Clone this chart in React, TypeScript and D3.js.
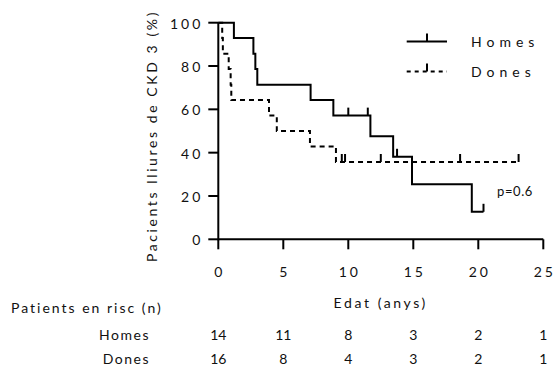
import React from 'react';
import * as d3 from 'd3';

// Kaplan-Meier steps (time in years, survival in %)
const homesTimes = [0, 1.2, 2.7, 2.85, 3.0, 7.1, 8.85, 11.7, 13.45, 14.9, 19.5, 20.4];
const homesSurv = [100, 92.9, 85.7, 78.6, 71.4, 64.3, 57.1, 47.6, 38.1, 25.4, 12.7, 12.7];
const homesCensored = [10.0, 11.5, 13.75, 20.4];

const donesTimes = [0, 0.3, 0.35, 0.8, 0.95, 1.0, 3.9, 4.5, 7.05, 9.05, 23.1];
const donesSurv = [100, 92.9, 85.7, 78.6, 71.4, 64.3, 57.1, 50, 42.9, 35.7, 35.7];
const donesCensored = [9.5, 9.75, 12.5, 18.6, 23.1];

const xTicks = [0, 5, 10, 15, 20, 25];
const yTicks = [0, 20, 40, 60, 80, 100];
const homesRisk = [14, 11, 8, 3, 2, 1];
const donesRisk = [16, 8, 4, 3, 2, 1];

const W = 554;
const H = 368;
const FONT = "Lato, 'Open Sans', sans-serif";

function survAt(times: number[], surv: number[], t: number) {
  const i = d3.bisectRight(times, t) - 1;
  return surv[Math.max(0, i)];
}

export default function App() {
  const x = d3.scaleLinear().domain([0, 25]).range([218.3, 543.3]);
  const y = d3.scaleLinear().domain([0, 100]).range([239.3, 22.7]);

  const line = d3
    .line<[number, number]>()
    .x((d) => x(d[0]))
    .y((d) => y(d[1]))
    .curve(d3.curveStepAfter);

  const homesPts = homesTimes.map((t, i) => [t, homesSurv[i]] as [number, number]);
  const donesPts = donesTimes.map((t, i) => [t, donesSurv[i]] as [number, number]);

  const dash = '5,4';
  const tick = 8;

  return (
    <svg
      width={W}
      height={H}
      style={{ position: 'absolute', left: 0, top: 0, background: '#fff' }}
      fontFamily={FONT}
      fill="#111"
    >
      {/* axes */}
      <line x1={x(0)} x2={x(25)} y1={y(0)} y2={y(0)} stroke="#000" strokeWidth={2} />
      <line x1={x(0)} x2={x(0)} y1={y(0) + 1} y2={y(100)} stroke="#000" strokeWidth={2} />
      {yTicks.map((v) => (
        <g key={'y' + v}>
          <line x1={x(0) - 10} x2={x(0)} y1={y(v)} y2={y(v)} stroke="#000" strokeWidth={2} />
          <text
            x={x(0) - 15}
            y={y(v) + 1}
            dy="0.35em"
            textAnchor="end"
            fontSize={14}
            letterSpacing={3}
          >
            {v}
          </text>
        </g>
      ))}
      {xTicks.map((v) => (
        <g key={'x' + v}>
          <line x1={x(v)} x2={x(v)} y1={y(0)} y2={y(0) + 10} stroke="#000" strokeWidth={2} />
          <text x={x(v) + 1.5} y={272} dy="0.35em" textAnchor="middle" fontSize={14} letterSpacing={3}>
            {v}
          </text>
        </g>
      ))}

      <text x={x(12.5)} y={303} dy="0.35em" textAnchor="middle" fontSize={14} letterSpacing={2.6}>
        Edat (anys)
      </text>
      <text
        transform={`translate(152, ${136}) rotate(-90)`}
        textAnchor="middle"
        dy="0.35em"
        fontSize={14}
        letterSpacing={2.6}
      >
        Pacients lliures de CKD 3 (%)
      </text>

      {/* curves */}
      <path d={line(homesPts) || ''} fill="none" stroke="#000" strokeWidth={2} />
      <path d={line(donesPts) || ''} fill="none" stroke="#000" strokeWidth={2} strokeDasharray={dash} />
      {homesCensored.map((t, i) => {
        const s = survAt(homesTimes, homesSurv, t);
        return <line key={'hc' + i} x1={x(t)} x2={x(t)} y1={y(s)} y2={y(s) - tick} stroke="#000" strokeWidth={2} />;
      })}
      {donesCensored.map((t, i) => {
        const s = survAt(donesTimes, donesSurv, t);
        return <line key={'dc' + i} x1={x(t)} x2={x(t)} y1={y(s)} y2={y(s) - tick} stroke="#000" strokeWidth={2} />;
      })}

      {/* legend */}
      <line x1={406.7} x2={447} y1={41.5} y2={41.5} stroke="#000" strokeWidth={2} />
      <line x1={427} x2={427} y1={41.5} y2={33.5} stroke="#000" strokeWidth={2} />
      <text x={471} y={42} dy="0.35em" fontSize={14} letterSpacing={5}>Homes</text>
      <line x1={406.7} x2={447} y1={71.5} y2={71.5} stroke="#000" strokeWidth={2} strokeDasharray="4,4" />
      <line x1={427} x2={427} y1={71.5} y2={63.5} stroke="#000" strokeWidth={2} />
      <text x={471} y={72} dy="0.35em" fontSize={14} letterSpacing={5}>Dones</text>

      <text x={497} y={191} dy="0.35em" fontSize={13} letterSpacing={0.6}>p=0.6</text>

      {/* risk table */}
      <text x={11} y={308} dy="0.35em" fontSize={14} letterSpacing={2}>Patients en risc (n)</text>
      <text x={150} y={335} dy="0.35em" textAnchor="end" fontSize={14} letterSpacing={1.5}>Homes</text>
      <text x={150} y={359} dy="0.35em" textAnchor="end" fontSize={14} letterSpacing={1.5}>Dones</text>
      {xTicks.map((t, i) => (
        <g key={'r' + t}>
          <text x={x(t)} y={335} dy="0.35em" textAnchor="middle" fontSize={14}>{homesRisk[i]}</text>
          <text x={x(t)} y={359} dy="0.35em" textAnchor="middle" fontSize={14}>{donesRisk[i]}</text>
        </g>
      ))}
    </svg>
  );
}
